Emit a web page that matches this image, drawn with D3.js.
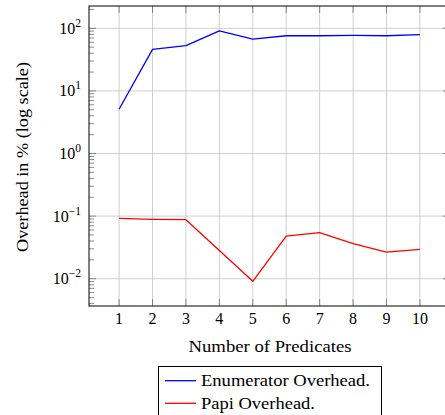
<!DOCTYPE html>
<html>
<head>
<meta charset="utf-8">
<script src="https://cdn.jsdelivr.net/npm/d3@7"></script>
<style>
  body { margin: 0; background: #fff; }
  svg { display: block; font-family: "Liberation Serif", "DejaVu Serif", serif; }
  .grid-line { stroke: #c4c4c4; stroke-width: 0.8; }
  .tick-mark { stroke: #707070; stroke-width: 0.8; }
</style>
</head>
<body>
<svg id="chart" width="445" height="415"></svg>
<script>
const predicates = [1, 2, 3, 4, 5, 6, 7, 8, 9, 10];
const enumeratorOverhead = [5.1, 46, 53, 91, 67, 76, 76, 77, 76, 79];
const papiOverhead = [0.092, 0.0886, 0.0876, 0.0283, 0.0091, 0.048, 0.0543, 0.0362, 0.0266, 0.0294];
const yTickExps = [-2, -1, 0, 1, 2];
const seriesInfo = [
  { label: "Enumerator Overhead.", color: "#0000ff", values: enumeratorOverhead, len: 169 },
  { label: "Papi Overhead.", color: "#ff0000", values: papiOverhead, len: 114 },
];

const svg = d3.select("#chart");
const m = { left: 89, right: 450, top: 6, bottom: 306 };

const x = d3.scaleLinear().domain([0.1, 10.9]).range([m.left, m.right]);
const y = d3.scaleLog().domain([Math.pow(10, -2.436), Math.pow(10, 2.356)]).range([m.bottom, m.top]);

// grid
const grid = svg.append("g");
grid.selectAll("line.vx").data(predicates).join("line").attr("class", "grid-line")
  .attr("x1", (d) => x(d)).attr("x2", (d) => x(d)).attr("y1", m.top).attr("y2", m.bottom);
grid.selectAll("line.hy").data(yTickExps).join("line").attr("class", "grid-line")
  .attr("x1", m.left).attr("x2", m.right).attr("y1", (d) => y(Math.pow(10, d))).attr("y2", (d) => y(Math.pow(10, d)));

// ticks (inward, all four sides)
const ticks = svg.append("g");
const minors = [];
for (let e = -3; e <= 2; e++) for (let k = 2; k <= 9; k++) {
  const v = k * Math.pow(10, e);
  if (v > y.domain()[0] && v < y.domain()[1]) minors.push(v);
}
predicates.forEach((d) => {
  ticks.append("line").attr("class", "tick-mark").attr("x1", x(d)).attr("x2", x(d)).attr("y1", m.bottom).attr("y2", m.bottom - 7);
  ticks.append("line").attr("class", "tick-mark").attr("x1", x(d)).attr("x2", x(d)).attr("y1", m.top).attr("y2", m.top + 7);
});
yTickExps.forEach((d) => {
  const yy = y(Math.pow(10, d));
  ticks.append("line").attr("class", "tick-mark").attr("x1", m.left).attr("x2", m.left + 7).attr("y1", yy).attr("y2", yy);
  ticks.append("line").attr("class", "tick-mark").attr("x1", m.right).attr("x2", m.right - 7).attr("y1", yy).attr("y2", yy);
});
minors.forEach((v) => {
  const yy = y(v);
  ticks.append("line").attr("class", "tick-mark").attr("x1", m.left).attr("x2", m.left + 5).attr("y1", yy).attr("y2", yy);
  ticks.append("line").attr("class", "tick-mark").attr("x1", m.right).attr("x2", m.right - 5).attr("y1", yy).attr("y2", yy);
});

// frame
svg.append("rect").attr("x", m.left).attr("y", m.top).attr("width", m.right - m.left).attr("height", m.bottom - m.top)
  .attr("fill", "none").attr("stroke", "#000").attr("stroke-width", 1);

// lines
const lineGen = d3.line().x((d, i) => x(predicates[i])).y((d) => y(d));
seriesInfo.forEach((s) => {
  svg.append("path").datum(s.values).attr("d", lineGen)
    .attr("fill", "none").attr("stroke", s.color).attr("stroke-width", 1.3).attr("stroke-linejoin", "round");
});

// tick labels
svg.append("g").selectAll("text").data(predicates).join("text")
  .attr("x", (d) => x(d)).attr("y", 324).attr("text-anchor", "middle").attr("font-size", 16).text((d) => d);
const yl = svg.append("g").selectAll("text").data(yTickExps).join("text")
  .attr("x", 81).attr("y", (d) => y(Math.pow(10, d)) + 5.5).attr("text-anchor", "end").attr("font-size", 16);
yl.append("tspan").text("10");
yl.append("tspan").attr("dy", -7).attr("font-size", 11.5).text((d) => (d < 0 ? "\u2212" + -d : d));

// axis titles
svg.append("text").attr("x", 270).attr("y", 352).attr("text-anchor", "middle").attr("font-size", 16)
  .attr("textLength", 163).attr("lengthAdjust", "spacingAndGlyphs").text("Number of Predicates");
svg.append("text").attr("transform", "translate(28,157) rotate(-90)").attr("text-anchor", "middle").attr("font-size", 16)
  .attr("textLength", 190).attr("lengthAdjust", "spacingAndGlyphs").text("Overhead in % (log scale)");

// legend
const lg = svg.append("g");
lg.append("rect").attr("x", 158.5).attr("y", 366.5).attr("width", 223).attr("height", 60)
  .attr("fill", "#fff").attr("stroke", "#000").attr("stroke-width", 1);
seriesInfo.forEach((s, i) => {
  const yy = 380.7 + i * 22.6;
  lg.append("line").attr("x1", 165).attr("x2", 196).attr("y1", yy).attr("y2", yy).attr("stroke", s.color).attr("stroke-width", 1.3);
  lg.append("text").attr("x", 201).attr("y", yy + 5.5).attr("font-size", 16)
    .attr("textLength", s.len).attr("lengthAdjust", "spacingAndGlyphs").text(s.label);
});
</script>
</body>
</html>
